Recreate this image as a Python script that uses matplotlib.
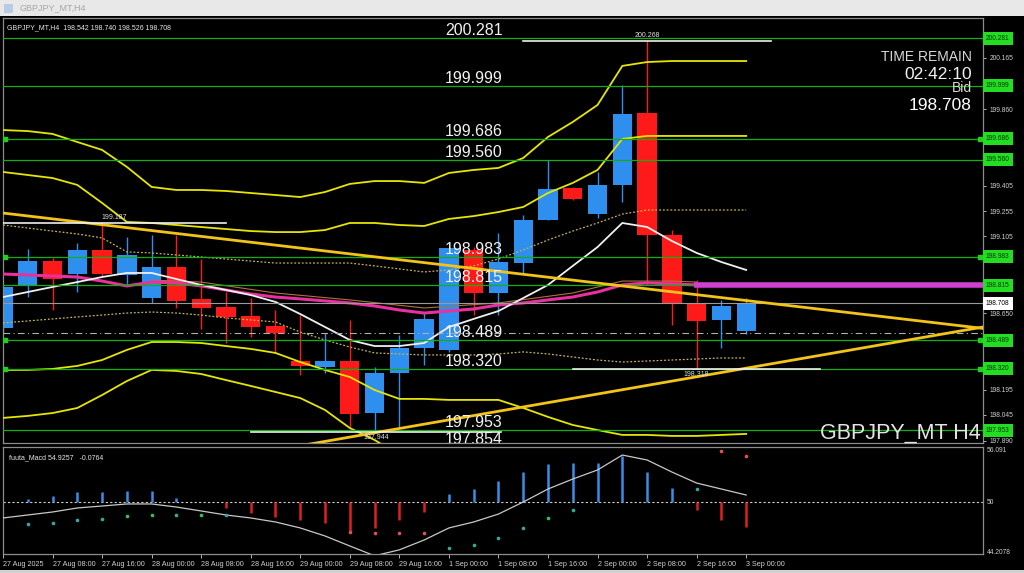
import numpy as np
import matplotlib
matplotlib.use('Agg')
import matplotlib.pyplot as plt
import matplotlib.transforms as mtransforms
from matplotlib.patches import Rectangle

plt.rcParams['font.family'] = ['Liberation Sans', 'DejaVu Sans']

# H4 bars, 27 Aug 2025 00:00 .. 3 Sep 2025 00:00
opens  = [198.561, 198.811, 198.959, 198.882, 199.025, 198.876, 198.739, 198.924, 198.734, 198.686,
          198.633, 198.573, 198.365, 198.330, 198.365, 198.056, 198.294, 198.442, 198.431, 199.025,
          198.769, 198.947, 199.203, 199.393, 199.238, 199.411, 199.838, 199.114, 198.704, 198.609, 198.542]
highs  = [198.830, 199.031, 198.977, 199.066, 199.187, 199.102, 199.114, 199.114, 198.971, 198.775,
          198.739, 198.668, 198.638, 198.532, 198.609, 198.330, 198.520, 198.650, 199.045, 199.040,
          199.126, 199.232, 199.559, 199.400, 199.488, 200.005, 200.268, 199.143, 198.846, 198.728, 198.740]
lows   = [198.540, 198.745, 198.668, 198.775, 198.870, 198.817, 198.710, 198.680, 198.555, 198.472,
          198.508, 198.413, 198.282, 198.294, 197.973, 197.944, 197.973, 198.341, 198.420, 198.638,
          198.638, 198.888, 199.203, 199.320, 199.215, 199.310, 198.817, 198.579, 198.318, 198.442, 198.526]
closes = [198.805, 198.959, 198.852, 199.025, 198.882, 198.995, 198.924, 198.722, 198.680, 198.627,
          198.567, 198.532, 198.336, 198.365, 198.050, 198.294, 198.442, 198.615, 199.036, 198.769,
          198.953, 199.203, 199.387, 199.327, 199.411, 199.832, 199.114, 198.704, 198.603, 198.692, 198.708]

# indicator lines (one value per bar)
band_up2 = [199.737, 199.731, 199.714, 199.666, 199.619, 199.518, 199.399, 199.381, 199.381, 199.375,
            199.363, 199.351, 199.339, 199.369, 199.417, 199.434, 199.434, 199.423, 199.482, 199.500,
            199.512, 199.571, 199.696, 199.785, 199.886, 200.118, 200.141, 200.147, 200.147, 200.147, 200.147]
band_up1 = [199.488, 199.470, 199.452, 199.411, 199.304, 199.191, 199.185, 199.173, 199.161, 199.149,
            199.137, 199.131, 199.131, 199.143, 199.185, 199.185, 199.173, 199.167, 199.209, 199.226,
            199.250, 199.280, 199.363, 199.423, 199.500, 199.684, 199.702, 199.702, 199.702, 199.702, 199.702]
dot_up   = [199.173, 199.155, 199.137, 199.120, 199.096, 199.013, 199.007, 198.995, 198.983, 198.971,
            198.959, 198.947, 198.947, 198.947, 198.947, 198.930, 198.912, 198.894, 198.906, 198.930,
            198.971, 199.025, 199.084, 199.137, 199.185, 199.238, 199.262, 199.262, 199.262, 199.262, 199.262]
dot_dn   = [198.591, 198.603, 198.615, 198.627, 198.638, 198.650, 198.656, 198.650, 198.638, 198.621,
            198.609, 198.597, 198.537, 198.490, 198.448, 198.413, 198.407, 198.401, 198.401, 198.401,
            198.407, 198.419, 198.407, 198.389, 198.371, 198.359, 198.365, 198.371, 198.377, 198.383, 198.383]
band_dn1 = [198.312, 198.312, 198.318, 198.336, 198.371, 198.431, 198.478, 198.478, 198.472, 198.454,
            198.437, 198.413, 198.359, 198.312, 198.270, 198.193, 198.140, 198.140, 198.134, 198.134,
            198.134, 198.086, 198.033, 197.985, 197.955, 197.926, 197.926, 197.920, 197.920, 197.926, 197.932]
band_dn2 = [198.027, 198.039, 198.056, 198.086, 198.163, 198.246, 198.312, 198.306, 198.288, 198.252,
            198.217, 198.181, 198.145, 198.074, 197.967, 197.896, 197.807]
ma_white = [198.745, 198.775, 198.805, 198.834, 198.864, 198.888, 198.888, 198.852, 198.817, 198.787,
            198.757, 198.716, 198.644, 198.567, 198.490, 198.454, 198.454, 198.472, 198.567, 198.615,
            198.662, 198.739, 198.817, 198.930, 199.042, 199.185, 199.161, 199.078, 199.007, 198.953, 198.906]
ma_pink  = [198.882, 198.876, 198.870, 198.864, 198.840, 198.811, 198.834, 198.829, 198.811, 198.787,
            198.763, 198.745, 198.734, 198.722, 198.710, 198.692, 198.668, 198.650, 198.662, 198.674,
            198.698, 198.710, 198.728, 198.745, 198.775, 198.817, 198.829, 198.823, 198.817]
ma_brown_x = [6, 8, 11, 14, 17, 20, 23, 25, 27, 28]
ma_brown   = [198.846, 198.834, 198.769, 198.728, 198.680, 198.710, 198.769, 198.840, 198.840, 198.834]

# drawn objects
green_levels = [200.281, 199.999, 199.686, 199.560, 198.983, 198.815, 198.489, 198.320, 197.953, 197.854]
anchored_levels = [199.686, 198.983, 198.489, 198.320]
hl_marks = [(0, 9, 199.187, '199.187'), (21, 31, 200.268, '200.268'),
            (23, 33, 198.318, '198.318'), (10, 20.1, 197.944, '197.944')]
trend_down = ([0, 39.6], [199.244, 198.558])
trend_up = ([12.2, 39.6], [197.867, 198.568])
pivot_level = 198.532
bid = 198.708
pink_level = (27.9, 198.815)

# scale labels that are not hidden under the object price boxes
price_ticks = [200.165, 199.860, 199.405, 199.255, 199.105,
               198.650, 198.195, 198.045, 197.890]

# fuuta_Macd sub window
macd_hist = [np.nan, 50.35, 50.7, 51.2, 51.2, 51.3, 51.3, 50.5, np.nan, 49.3,
             48.7, 48.25, 47.9, 47.5, 46.5, 46.95, 47.9, 48.8, 50.9, 51.5,
             52.5, 53.5, 54.45, 54.6, 54.6, 55.4, 53.5, 51.6, 49.1, 47.9, 47.1]
macd_line = [48.13, 48.48, 48.83, 49.30, 49.53, 49.77, 49.77, 49.41, 48.95, 48.48,
             48.13, 47.66, 46.96, 46.02, 44.85, 43.70, 44.40, 45.55, 46.96, 47.66,
             48.59, 50.00, 51.52, 52.69, 53.75, 55.50, 54.92, 53.51, 52.22, 51.52, 50.82]
macd_dots = [np.nan, 47.42, 47.54, 47.89, 48.01, 48.36, 48.48, 48.48, 48.48, 48.48,
             np.nan, np.nan, np.nan, np.nan, 46.49, 46.37, 46.37, 46.37, 44.61, 44.96,
             45.78, 46.96, 48.13, 49.06, np.nan, np.nan, np.nan, np.nan, 51.52, 55.97, 55.39]
dot_kind = ['t', 't', 't', 't', 't', 'g', 'g', 't', 'g', 't',
            't', 't', 't', 't', 'r', 'r', 'r', 'r', 't', 't',
            't', 't', 'g', 't', 't', 't', 't', 't', 't', 'r', 'r']

time_ticks = list(range(0, 31, 2))
time_labels = ['27 Aug 2025', '27 Aug 08:00', '27 Aug 16:00', '28 Aug 00:00', '28 Aug 08:00',
               '28 Aug 16:00', '29 Aug 00:00', '29 Aug 08:00', '29 Aug 16:00', '1 Sep 00:00',
               '1 Sep 08:00', '1 Sep 16:00', '2 Sep 00:00', '2 Sep 08:00', '2 Sep 16:00', '3 Sep 00:00']

W, H = 1024, 573
fig = plt.figure(figsize=(W / 100, H / 100), dpi=100, facecolor='black')

def fx(px):
    return px / W

def fy(py):
    return 1 - py / H

ax = fig.add_axes([fx(3), fy(443), (983 - 3) / W, (443 - 18) / H])
ax2 = fig.add_axes([fx(3), fy(554), (983 - 3) / W, (554 - 447) / H])
for a in (ax, ax2):
    a.set_facecolor('black')
    a.set_xlim(0, 39.56)
    for s in a.spines.values():
        s.set_color('#8c8c8c')
        s.set_linewidth(0.9)
ax.set_ylim(197.878, 200.4026)
ax2.set_ylim(43.911, 56.44)

x = np.arange(len(opens))
o = np.array(opens); c = np.array(closes)
up = c >= o
cols = np.where(up, '#2f8fef', '#ff1a1a')
ax.vlines(x, lows, highs, colors=cols, lw=1.0, zorder=2)
ax.bar(x, np.maximum(np.abs(c - o), 0.004), bottom=np.minimum(o, c), width=0.78,
       color=cols, zorder=2)

# indicators
ax.plot(x, band_up2, color='#e6e600', lw=1.3, zorder=3)
ax.plot(x, band_up1, color='#e6e600', lw=1.3, zorder=3)
ax.plot(x, band_dn1, color='#e6e600', lw=1.3, zorder=3)
ax.plot(x[:len(band_dn2)], band_dn2, color='#e6e600', lw=1.3, zorder=3)
ax.plot(x, dot_up, color='#c8b450', lw=0.9, ls=(0, (1.5, 1.5)), zorder=3)
ax.plot(x, dot_dn, color='#c8b450', lw=0.9, ls=(0, (1.5, 1.5)), zorder=3)
ax.plot(ma_brown_x, ma_brown, color='#b07040', lw=0.8, zorder=3)
ax.plot(x[:len(ma_pink)], ma_pink, color='#e8309e', lw=2.2, zorder=3)
ax.plot(x, ma_white, color='#f0f0f0', lw=1.3, zorder=3)

# objects
ax.axhline(bid, color='#9a9a9a', lw=0.8, zorder=3)
ax.axhline(pivot_level, color='#b0b0b0', lw=0.8, ls=(0, (6, 3, 1, 3)), zorder=3)
for lv in green_levels:
    ax.axhline(lv, color='#10b010', lw=0.9, zorder=4)
    ax.text(17.85, lv + 0.018, f'{lv:.3f}', color='#f2f2f2', fontsize=11.5,
            ha='left', va='baseline', zorder=6, clip_on=True)
ax.plot([0.08] * len(anchored_levels), anchored_levels, 's', color='#20d020', ms=2.5, zorder=5)
ax.plot([39.45] * len(anchored_levels), anchored_levels, 's', color='#20d020', ms=2.5, zorder=5)
ax.plot([pink_level[0], 39.56], [pink_level[1]] * 2, color='#d040d0', lw=4, zorder=4,
        solid_capstyle='butt')
ax.plot(*trend_down, color='#f2c418', lw=2, zorder=4)
ax.plot(*trend_up, color='#f2c418', lw=2, zorder=4)
for x0, x1, lv, lab in hl_marks:
    ax.plot([x0, x1], [lv, lv], color='#f0f0f0', lw=1.2, zorder=5)
    above = lab in ('199.187', '200.268')
    ax.text((x0 + x1) / 2, lv + (0.012 if above else -0.012), lab, color='#e0e0e0',
            fontsize=5, ha='center', va='bottom' if above else 'top', zorder=6)

# right price scale
ax.tick_params(axis='x', bottom=False, labelbottom=False)
ax.yaxis.tick_right()
ax.set_yticks(price_ticks)
ax.set_yticklabels([f'{v:.3f}' for v in price_ticks])
ax.tick_params(axis='y', colors='#cfcfcf', labelsize=4.8, length=2.5, pad=2, width=0.6)
blend = mtransforms.blended_transform_factory(ax.transAxes, ax.transData)
for lv in green_levels:
    if lv > 197.878:
        ax.text(1.003, lv, f'{lv:.3f}', transform=blend, fontsize=4.8, color='#063806',
                ha='left', va='center', clip_on=False, zorder=7,
                bbox=dict(boxstyle='square,pad=0.45', fc='#22dd22', ec='none'))
ax.text(1.003, bid, f'{bid:.3f}', transform=blend, fontsize=4.8, color='black',
        ha='left', va='center', clip_on=False, zorder=7,
        bbox=dict(boxstyle='square,pad=0.45', fc='white', ec='none'))

# macd window
ax2.axhline(50, color='#d0d0d0', lw=0.8, ls=(0, (2, 2)), zorder=2)
hist = np.array(macd_hist)
ok = ~np.isnan(hist)
ax2.vlines(x[ok], 50, hist[ok], colors=np.where(hist[ok] >= 50, '#3a8ee6', '#e02020'),
           lw=1.8, zorder=3)
ax2.plot(x, macd_line, color='#c8c8c8', lw=0.9, zorder=4)
kind_col = {'t': '#35a8a0', 'g': '#30c060', 'r': '#e05050'}
dots = np.array(macd_dots)
for xi, v, k in zip(x, dots, dot_kind):
    if not np.isnan(v):
        ax2.plot(xi, v, 'o', ms=1.6, color=kind_col[k], zorder=4)
ax2.yaxis.tick_right()
ax2.set_yticks([56.091, 50, 44.2078])
ax2.set_yticklabels(['56.091', '50', '44.2078'])
ax2.tick_params(axis='y', colors='#cfcfcf', labelsize=4.8, length=0, pad=3)
ax2.set_xticks(time_ticks)
ax2.set_xticklabels(time_labels)
ax2.tick_params(axis='x', colors='#cfcfcf', labelsize=5.2, length=3, pad=2, width=0.6)
for lab in ax2.get_xticklabels():
    lab.set_ha('left')

ax.text(0.004, 0.985, 'GBPJPY_MT,H4  198.542 198.740 198.526 198.708', transform=ax.transAxes,
        color='#e8e8e8', fontsize=5, ha='left', va='top')
ax2.text(0.006, 0.93, 'fuuta_Macd 54.9257   -0.0764', transform=ax2.transAxes,
         color='#e8e8e8', fontsize=5, ha='left', va='top')

# info texts
fig.text(fx(972), fy(57), 'TIME REMAIN', color='#d8d8d8', fontsize=10, ha='right', va='center')
fig.text(fx(972), fy(74.5), '02:42:10', color='#f0f0f0', fontsize=12.5, ha='right', va='center')
fig.text(fx(972), fy(88), 'Bid', color='#d8d8d8', fontsize=10, ha='right', va='center')
fig.text(fx(972), fy(105), f'{bid:.3f}', color='#ffffff', fontsize=12.5, ha='right', va='center')
fig.text(fx(981), fy(439), 'GBPJPY_MT H4', color='#e4e4e4', fontsize=15.5, ha='right', va='baseline')

# window frame
fig.patches.append(Rectangle((0, fy(16)), 1, 16 / H, transform=fig.transFigure,
                             fc='#e8e8e8', ec='none', zorder=0))
fig.patches.append(Rectangle((fx(4), fy(13)), 9 / W, 9 / H, transform=fig.transFigure,
                             fc='#b9cbe4', ec='none', zorder=1))
fig.text(fx(19), fy(8), 'GBPJPY_MT,H4', color='#a8a8a8', fontsize=6.5, ha='left', va='center')
fig.patches.append(Rectangle((0, 0), 1, 3 / H, transform=fig.transFigure,
                             fc='#d0d0d0', ec='none', zorder=0))

fig.savefig('out.png', dpi=100, facecolor='black')
